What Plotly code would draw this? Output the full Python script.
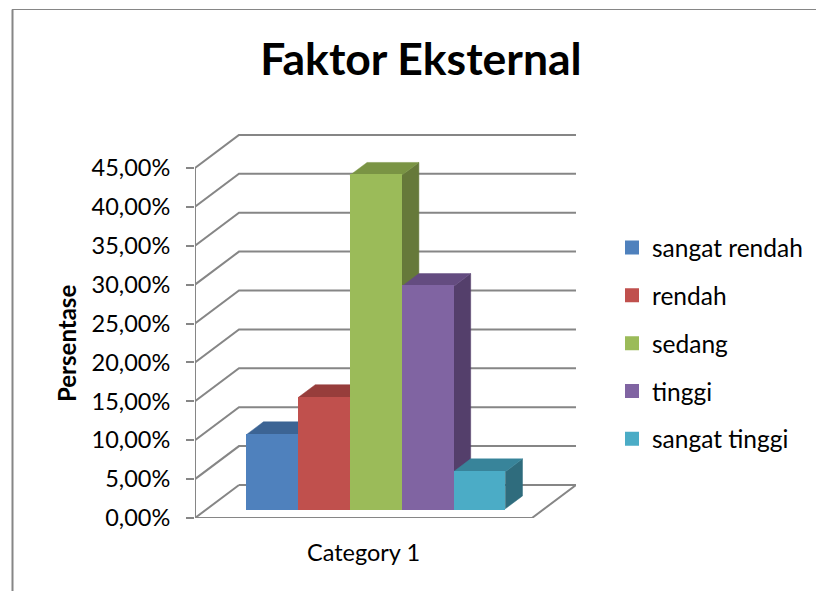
import plotly.graph_objects as go

# Data
categories = ["Category 1"]
series_names = ["sangat rendah", "rendah", "sedang", "tinggi", "sangat tinggi"]
series_values = [9.52, 14.29, 42.86, 28.57, 4.76]
y_ticks = [0, 5, 10, 15, 20, 25, 30, 35, 40, 45]
y_tick_labels = ["0,00%", "5,00%", "10,00%", "15,00%", "20,00%", "25,00%", "30,00%", "35,00%", "40,00%", "45,00%"]
y_title = "Persentase"
front_colors = ["#4F81BD", "#C0504D", "#9BBB59", "#8064A2", "#4BACC6"]
side_colors = ["#355680", "#843634", "#66793A", "#543F6B", "#2F6C7D"]
top_colors = ["#3C6494", "#973D3B", "#7A9444", "#644C80", "#38849A"]

# Page and oblique-projection geometry
W, H = 816, 591
PL, PR, PB, PT = 195, 576, 518, 134
PX_PER_PCT = 7.78
FLOOR_W = 337.0
WALL_DX = 44.0
WALL_DY = 33.0 / PX_PER_PCT
BAR_W = 51.8
D0, D1 = 0.28, 0.67
GRID = "#868686"


def project(u, v, d):
    return u + d * WALL_DX, v + d * WALL_DY


fig = go.Figure()

# Walls, floor, axis line
gx, gy = [], []
for t in y_ticks[1:]:
    a = project(0, t, 0)
    b = project(0, t, 1)
    c = project(FLOOR_W, t, 1)
    gx += [a[0], b[0], c[0], None]
    gy += [a[1], b[1], c[1], None]
fig.add_trace(go.Scatter(x=gx, y=gy, mode="lines", line=dict(color=GRID, width=2),
                         showlegend=False, hoverinfo="skip", cliponaxis=False))
corners = [project(0, 0, 1), project(0, 0, 0), project(FLOOR_W, 0, 0), project(FLOOR_W, 0, 1), project(0, 0, 1)]
fig.add_trace(go.Scatter(x=[c[0] for c in corners], y=[c[1] for c in corners], mode="lines",
                         line=dict(color=GRID, width=2), showlegend=False, hoverinfo="skip", cliponaxis=False))
fig.add_trace(go.Scatter(x=[0, 0], y=[y_ticks[0], y_ticks[-1]], mode="lines",
                         line=dict(color=GRID, width=2), showlegend=False, hoverinfo="skip", cliponaxis=False))

n = len(series_values)
centre = FLOOR_W / 2
lefts = [centre + (i - n / 2) * BAR_W for i in range(n)]

# Side and top faces of each bar, derived from its value
for i, v in enumerate(series_values):
    u0, u1 = lefts[i], lefts[i] + BAR_W
    side = [project(u1, 0, D0), project(u1, v, D0), project(u1, v, D1), project(u1, 0, D1), project(u1, 0, D0)]
    top = [project(u0, v, D0), project(u1, v, D0), project(u1, v, D1), project(u0, v, D1), project(u0, v, D0)]
    for face, col in ((side, side_colors[i]), (top, top_colors[i])):
        fig.add_trace(go.Scatter(x=[p[0] for p in face], y=[p[1] for p in face], mode="lines",
                                 fill="toself", fillcolor=col, line=dict(color=col, width=0.5),
                                 showlegend=False, hoverinfo="skip", cliponaxis=False))

# Front faces on an overlaid subplot so they sit above the depth faces
base_y = project(0, 0, D0)[1]
for i, (name, v) in enumerate(zip(series_names, series_values)):
    fig.add_trace(go.Bar(x=[project(lefts[i] + BAR_W / 2, 0, D0)[0]], y=[v], base=[base_y], width=[BAR_W - 2],
                         name=name, legendgroup=name, xaxis="x2", yaxis="y2",
                         marker=dict(color=front_colors[i], line=dict(color=front_colors[i], width=2)),
                         hovertemplate=name + ": %{y:.2f}%<extra></extra>"))

xr = [0, PR - PL]
yr = [0, (PB - PT) / PX_PER_PCT]
xdom = [PL / W, PR / W]
ydom = [(H - PB) / H, (H - PT) / H]
FONT = "Lato, Carlito, sans-serif"

fig.update_layout(
    width=W, height=H, autosize=False,
    margin=dict(l=0, r=0, t=0, b=0, autoexpand=False),
    paper_bgcolor="white", plot_bgcolor="rgba(0,0,0,0)",
    font=dict(family=FONT, color="black"),
    barmode="overlay", bargap=0,
    title=dict(text="<b>Faktor Eksternal</b>", font=dict(family=FONT, size=44.5, color="black"),
               x=421 / W, xanchor="center", y=1 - 59 / H, yanchor="middle"),
    xaxis=dict(domain=xdom, range=xr, showgrid=False, zeroline=False, showline=False, automargin=False,
               tickmode="array", tickvals=[centre], ticktext=categories, ticks="",
               tickfont=dict(size=23.5), ticklabelstandoff=18),
    yaxis=dict(domain=ydom, range=yr, showgrid=False, zeroline=False, showline=False, automargin=False,
               tickmode="array", tickvals=y_ticks, ticktext=y_tick_labels, ticks="outside",
               ticklen=8, tickwidth=2, tickcolor=GRID, tickfont=dict(size=23.5), ticklabelstandoff=11),
    xaxis2=dict(domain=xdom, range=xr, overlaying="x", visible=False),
    yaxis2=dict(domain=ydom, range=yr, overlaying="y", visible=False),
    legend=dict(x=612 / W, xanchor="left", y=1 - 225 / H, yanchor="top",
                font=dict(size=24.5), tracegroupgap=13, traceorder="grouped",
                bgcolor="rgba(0,0,0,0)", itemclick=False, itemdoubleclick=False),
    annotations=[dict(text="<b>" + y_title + "</b>", xref="paper", yref="paper", x=66 / W, y=1 - 344 / H,
                      xanchor="center", yanchor="middle", textangle=-90, showarrow=False, font=dict(size=24))],
    shapes=[
        dict(type="line", xref="paper", yref="paper", x0=12.5 / W, x1=12.5 / W, y0=0, y1=1 - 9.5 / H,
             line=dict(color=GRID, width=2)),
        dict(type="line", xref="paper", yref="paper", x0=12 / W, x1=1, y0=1 - 9.5 / H, y1=1 - 9.5 / H,
             line=dict(color=GRID, width=1)),
    ],
)

fig.write_html("out.html", config=dict(displayModeBar=False),
               post_script="document.body.style.margin='0';document.documentElement.style.overflow='hidden';")
